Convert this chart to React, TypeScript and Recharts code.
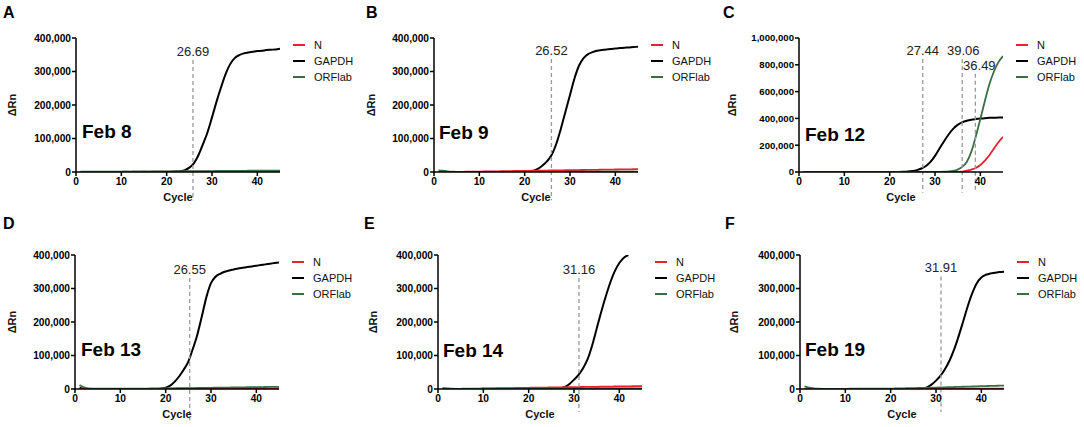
import React from "react";
import {
  Legend,
  Line,
  LineChart,
  ReferenceLine,
  XAxis,
  YAxis,
} from "recharts";

// cycle numbers shared by every panel
const cycles = [
  1, 2, 3, 4, 5, 6, 7, 8, 9, 10, 11, 12, 13, 14, 15, 16, 17, 18, 19, 20, 21, 22,
  23, 24, 25, 26, 27, 28, 29, 30, 31, 32, 33, 34, 35, 36, 37, 38, 39, 40, 41, 42,
  43, 44, 45,
];

const seriesNames = ["N", "GAPDH", "ORFlab"];
const xTicks = [0, 10, 20, 30, 40];

// delta Rn values, in thousands
const aN = [
  0, 0.4, 0.3, 0.3, 0.4, 0.4, 0.5, 0.4, 0.5, 0.5, 0.6, 0.5, 0.6, 0.6, 0.7, 0.6,
  0.7, 0.7, 0.8, 0.8, 0.8, 0.8, 0.9, 0.9, 0.9, 1, 1, 1, 1.1, 1.1, 1.1, 1.2, 1.2,
  1.2, 1.3, 1.3, 1.3, 1.4, 1.4, 1.4, 1.5, 1.5, 1.5, 1.6, 1.6,
];
const aGapdh = [
  0, 0, 0, 0, 0, 0, 0, 0, 0, 0, 0, 0, 0, 0, 0, 0, 0, 0, 0, 0, 0.5, 1.2, 2.5, 5.5,
  13, 26, 50, 83, 118, 163, 210, 253, 292, 322, 340, 349, 354, 357, 359, 361,
  362, 364, 365, 366, 368,
];
const aOrf = [
  1, 1.4, 1, 1, 1.2, 1.1, 1.3, 1.4, 1.3, 1.4, 1.5, 1.4, 1.6, 1.6, 1.8, 1.7, 1.9,
  1.9, 2, 2.1, 2.1, 2.2, 2.3, 2.4, 2.5, 2.5, 2.6, 2.7, 2.8, 2.9, 3, 3.1, 3.2, 3.3,
  3.4, 3.5, 3.6, 3.7, 3.8, 3.9, 4, 4.1, 4.2, 4.3, 4.4,
];

const bN = [
  0, 0, 0, 0, 0.3, 0.5, 0.7, 0.9, 1.1, 1.3, 1.5, 1.7, 1.9, 2.1, 2.3, 2.5, 2.8, 3,
  3.2, 3.4, 3.6, 3.8, 4, 4.2, 4.4, 4.6, 4.8, 5, 5.2, 5.4, 5.6, 5.8, 6, 6.2, 6.4,
  6.6, 6.8, 7, 7.2, 7.4, 7.6, 7.8, 8, 8.2, 8.4,
];
const bGapdh = [
  0, 0, 0, 0, 0, 0, 0, 0, 0, 0, 0, 0, 0, 0, 0, 0, 0, 0, 0, 0, 1, 4, 10, 20, 33,
  52, 85, 130, 180, 230, 280, 318, 340, 352, 358, 362, 364, 366, 367, 369, 370,
  371, 372, 373, 374,
];
const bOrf = [
  5, 4, 2, 1, 0.5, 0.3, 0.2, 0.2, 0.3, 0.2, 0.3, 0.3, 0.2, 0.3, 0.3, 0.4, 0.3,
  0.4, 0.4, 0.4, 0.5, 0.5, 0.5, 0.5, 0.6, 0.6, 0.6, 0.6, 0.7, 0.7, 0.7, 0.8, 0.8,
  0.8, 0.8, 0.9, 0.9, 0.9, 1, 1, 1, 1, 1.1, 1.1, 1.1,
];

const cN = [
  0, 0, 0, 0, 0, 0, 0, 0, 0, 0, 0, 0, 0, 0, 0, 0, 0, 0, 0, 0, 0, 0, 0, 0, 0, 0, 0,
  0, 0, 0, 0, 0, 0, 0, 1, 3, 10, 18, 30, 52, 85, 125, 175, 222, 262,
];
const cGapdh = [
  0, 0, 0, 0, 0, 0, 0, 0, 0, 0, 0, 0, 0, 0, 0, 0, 0, 0, 0, 0, 0, 0, 1, 3, 7, 14,
  26, 45, 75, 120, 175, 230, 280, 322, 352, 370, 382, 390, 395, 399, 402, 404,
  405, 406, 407,
];
const cOrf = [
  1, 1, 1, 1, 1, 1, 1, 1, 1, 1, 1, 1, 1, 1, 1, 1, 1, 1, 1, 1, 1, 1, 1, 1, 1, 1, 1,
  1, 1, 1, 1, 2, 4, 8, 18, 38, 75, 150, 265, 395, 530, 655, 750, 820, 865,
];

const dN = [
  0.5, 0.4, 0.4, 0.4, 0.5, 0.4, 0.5, 0.5, 0.5, 0.5, 0.5, 0.5, 0.6, 0.6, 0.6, 0.6,
  0.6, 0.6, 0.7, 0.7, 0.7, 0.7, 0.7, 0.8, 0.8, 0.8, 0.8, 0.8, 0.9, 0.9, 0.9, 0.9,
  1, 1, 1, 1, 1, 1.1, 1.1, 1.1, 1.1, 1.2, 1.2, 1.2, 1.2,
];
const dGapdh = [
  4, 1, 0, 0, 0, 0, 0, 0, 0, 0, 0, 0, 0, 0, 0, 0, 0, 0, 1, 4, 10, 22, 38, 58, 82,
  120, 163, 218, 275, 316, 335, 344, 350, 354, 357, 360, 362, 364, 366, 368, 370,
  372, 374, 376, 378,
];
const dOrf = [
  12, 5, 1.5, 1, 0.8, 0.8, 0.9, 0.9, 1, 1, 1.1, 1.1, 1.2, 1.2, 1.3, 1.4, 1.5, 1.6,
  1.7, 1.8, 2, 2.1, 2.3, 2.4, 2.6, 2.8, 3, 3.2, 3.4, 3.6, 3.8, 4, 4.2, 4.4, 4.6,
  4.8, 5, 5.2, 5.4, 5.6, 5.8, 6, 6.1, 6.2, 6.3,
];

const eN = [
  0, 0, 0.2, 0.4, 0.6, 0.8, 1, 1.2, 1.4, 1.6, 1.8, 2, 2.2, 2.4, 2.6, 2.8, 3, 3.2,
  3.4, 3.6, 3.8, 4, 4.2, 4.4, 4.6, 4.8, 5, 5.2, 5.4, 5.6, 5.8, 6, 6.2, 6.4, 6.6,
  6.8, 7, 7.2, 7.4, 7.6, 7.8, 8, 8.2, 8.4, 8.6,
];
const eGapdh = [
  0, 0, 0, 0, 0, 0, 0, 0, 0, 0, 0, 0, 0, 0, 0, 0, 0, 0, 0, 0, 0, 0, 0, 0, 0, 0, 2,
  6, 15, 28, 42, 62, 89, 130, 180, 230, 276, 318, 352, 376, 392, 400, null, null,
  null,
];
const eOrf = [
  3, 2, 1, 0.5, 0.5, 0.5, 0.6, 0.6, 0.6, 0.7, 0.7, 0.7, 0.8, 0.8, 0.8, 0.9, 0.9,
  0.9, 1, 1, 1, 1.1, 1.1, 1.1, 1.2, 1.2, 1.2, 1.3, 1.3, 1.3, 1.4, 1.4, 1.4, 1.5,
  1.5, 1.5, 1.6, 1.6, 1.6, 1.7, 1.7, 1.7, 1.8, 1.8, 1.8,
];

const fN = [
  0.5, 0.4, 0.4, 0.4, 0.4, 0.4, 0.4, 0.4, 0.4, 0.4, 0.5, 0.5, 0.5, 0.5, 0.5, 0.5,
  0.5, 0.5, 0.5, 0.5, 0.6, 0.6, 0.6, 0.6, 0.6, 0.6, 0.6, 0.6, 0.6, 0.6, 0.7, 0.7,
  0.7, 0.7, 0.7, 0.7, 0.7, 0.7, 0.7, 0.7, 0.8, 0.8, 0.8, 0.8, 0.8,
];
const fGapdh = [
  0, 0, 0, 0, 0, 0, 0, 0, 0, 0, 0, 0, 0, 0, 0, 0, 0, 0, 0, 0, 0, 0, 0, 0, 0, 0, 1,
  5, 13, 25, 40, 60, 85, 118, 158, 202, 247, 286, 316, 333, 341, 345, 347, 349,
  350,
];
const fOrf = [
  8, 4, 2, 1, 0.5, 0.5, 0.5, 0.5, 0.6, 0.6, 0.7, 0.7, 0.8, 0.8, 0.9, 0.9, 1, 1,
  1.1, 1.2, 1.5, 1.8, 2.1, 2.4, 2.7, 3, 3.3, 3.6, 3.9, 4.3, 4.7, 5.1, 5.5, 5.9,
  6.3, 6.7, 7.1, 7.5, 7.9, 8.3, 8.7, 9.1, 9.5, 9.9, 10.3,
];

// Ct markers: where each dashed line sits on the cycle axis (as drawn) and its label
const aCt = [{ at: 25.8, text: "26.69" }];
const bCt = [{ at: 25.9, text: "26.52" }];
const cCt = [
  { at: 27.3, text: "27.44" },
  { at: 36.0, text: "39.06" },
  { at: 38.9, text: "36.49" },
];
const dCt = [{ at: 25.3, text: "26.55" }];
const eCt = [{ at: 31.1, text: "31.16" }];
const fCt = [{ at: 31.1, text: "31.91" }];

const ticks400 = [0, 100, 200, 300, 400];
const ticks1000 = [0, 200, 400, 600, 800, 1000];

const COLORS: Record<string, string> = {
  N: "#e8212b",
  GAPDH: "#000000",
  ORFlab: "#3a6e45",
};
const FONT = "Arial, 'Liberation Sans', Helvetica, sans-serif";

const W = 360;
const H = 215;

const panels = [
  { id: "A", date: "Feb 8", left: 0, top: 0, n: aN, g: aGapdh, o: aOrf, yMax: 400, yTicks: ticks400, cts: aCt, lineTop: [334], labelDx: [0], drop: 84, dateX: 82, dateY: 121.5, letterX: 3, letterY: 4.5, yLabX: 12, tickFs: 10.2 },
  { id: "B", date: "Feb 9", left: 358, top: 0, n: bN, g: bGapdh, o: bOrf, yMax: 400, yTicks: ticks400, cts: bCt, lineTop: [337], labelDx: [0], drop: 84, dateX: 81, dateY: 122.5, letterX: 8, letterY: 4.5, yLabX: 13, tickFs: 10.2 },
  { id: "C", date: "Feb 12", left: 723, top: 0, n: cN, g: cGapdh, o: cOrf, yMax: 1000, yTicks: ticks1000, cts: cCt, lineTop: [844, 844, 733], labelDx: [0, 1, 4], drop: 155, dateX: 82, dateY: 124.5, letterX: 0, letterY: 4.5, yLabX: 9, tickFs: 9.6 },
  { id: "D", date: "Feb 13", left: -1, top: 217, n: dN, g: dGapdh, o: dOrf, yMax: 400, yTicks: ticks400, cts: dCt, lineTop: [331], labelDx: [0], drop: 93, dateX: 82, dateY: 122.5, letterX: 4, letterY: -1.5, yLabX: 13, tickFs: 10.2 },
  { id: "E", date: "Feb 14", left: 362, top: 217, n: eN, g: eGapdh, o: eOrf, yMax: 400, yTicks: ticks400, cts: eCt, lineTop: [331], labelDx: [0], drop: 69, dateX: 81, dateY: 123.5, letterX: 2, letterY: -1.5, yLabX: 11, tickFs: 10.2 },
  { id: "F", date: "Feb 19", left: 724, top: 217, n: fN, g: fGapdh, o: fOrf, yMax: 400, yTicks: ticks400, cts: fCt, lineTop: [336], labelDx: [0], drop: 69, dateX: 81, dateY: 122.5, letterX: 1, letterY: -1.5, yLabX: 10, tickFs: 10.2 },
];

const fmt = (v: number) => (v * 1000).toLocaleString("en-US");

function LegendBox({ payload }: any) {
  const items = [...(payload || [])].sort(
    (a: any, b: any) => seriesNames.indexOf(a.value) - seriesNames.indexOf(b.value)
  );
  return (
    <div style={{ fontFamily: FONT, fontSize: 11, color: "#111" }}>
      {items.map((p: any) => (
        <div key={p.value} style={{ display: "flex", alignItems: "center", height: 16 }}>
          <svg width={12} height={2} style={{ marginRight: 9 }}>
            <line x1={0} y1={1} x2={12} y2={1} stroke={COLORS[p.value]} strokeWidth={2} />
          </svg>
          <span>{p.value}</span>
        </div>
      ))}
    </div>
  );
}

function Panel({ p }: { p: (typeof panels)[number] }) {
  const rows = cycles.map((c, i) => ({ cycle: c, N: p.n[i], GAPDH: p.g[i], ORFlab: p.o[i] }));
  return (
    <div style={{ position: "absolute", left: p.left, top: p.top, width: W, height: H }}>
      <LineChart width={W} height={H} data={rows} margin={{ top: 38, right: 80, bottom: 13, left: 0 }}>
        <XAxis
          dataKey="cycle"
          type="number"
          domain={[0, 45]}
          ticks={xTicks}
          allowDataOverflow
          height={30}
          tickSize={4}
          tickMargin={2}
          axisLine={{ stroke: "#000", strokeWidth: 1.5 }}
          tickLine={{ stroke: "#000", strokeWidth: 1.5 }}
          tick={{ fill: "#000", fontSize: 10.2, fontWeight: "bold", fontFamily: FONT }}
          label={{
            content: ({ viewBox }: any) => (
              <text
                x={viewBox.x + viewBox.width / 2}
                y={viewBox.y + 25}
                textAnchor="middle"
                dominantBaseline="central"
                fontFamily={FONT}
                fontWeight="bold"
                fontSize={11}
                fill="#111"
              >
                Cycle
              </text>
            ),
          }}
        />
        <YAxis
          type="number"
          domain={[0, p.yMax]}
          ticks={p.yTicks}
          allowDataOverflow
          width={76}
          tickSize={4}
          tickMargin={1}
          tickFormatter={fmt}
          axisLine={{ stroke: "#000", strokeWidth: 1.5 }}
          tickLine={{ stroke: "#000", strokeWidth: 1.5 }}
          tick={{ fill: "#000", fontSize: p.tickFs, fontWeight: "bold", fontFamily: FONT }}
          label={{
            content: ({ viewBox }: any) => {
              const x = viewBox.x + p.yLabX;
              const y = viewBox.y + viewBox.height / 2;
              return (
                <text
                  x={x}
                  y={y}
                  transform={`rotate(-90, ${x}, ${y})`}
                  textAnchor="middle"
                  dominantBaseline="central"
                  fontFamily={FONT}
                  fontWeight="bold"
                  fontSize={11}
                  fill="#111"
                >
                  ΔRn
                </text>
              );
            },
          }}
        />
        <Legend
          layout="vertical"
          align="center"
          verticalAlign="middle"
          content={<LegendBox />}
          wrapperStyle={{ left: 293, top: 37, width: 70 }}
        />
        <Line dataKey="GAPDH" name="GAPDH" stroke={COLORS.GAPDH} strokeWidth={2} dot={false} type="monotone" isAnimationActive={false} />
        <Line dataKey="N" name="N" stroke={COLORS.N} strokeWidth={1.8} dot={false} type="monotone" isAnimationActive={false} />
        <Line dataKey="ORFlab" name="ORFlab" stroke={COLORS.ORFlab} strokeWidth={1.8} dot={false} type="monotone" isAnimationActive={false} />
        {p.cts.map((t, i) => (
          <ReferenceLine
            key={t.text}
            segment={[
              { x: t.at, y: p.lineTop[i] },
              { x: t.at, y: -p.drop },
            ]}
            ifOverflow="visible"
            stroke="#9a9a9a"
            strokeWidth={1.3}
            strokeDasharray="4 3"
            label={{
              value: t.text,
              position: "top",
              offset: 4,
              dx: p.labelDx[i],
              fill: "#222",
              fontSize: 13,
              fontFamily: FONT,
            }}
          />
        ))}
      </LineChart>
      <div
        style={{
          position: "absolute",
          left: p.letterX,
          top: p.letterY,
          fontFamily: FONT,
          fontWeight: "bold",
          fontSize: 16,
          lineHeight: "16px",
        }}
      >
        {p.id}
      </div>
      <div
        style={{
          position: "absolute",
          left: p.dateX,
          top: p.dateY,
          fontFamily: FONT,
          fontWeight: "bold",
          fontSize: 19,
          lineHeight: "19px",
          whiteSpace: "nowrap",
        }}
      >
        {p.date}
      </div>
    </div>
  );
}

export default function App() {
  return (
    <div style={{ position: "absolute", left: 0, top: 0, width: 1084, height: 427, background: "#fff", overflow: "hidden" }}>
      {panels.map((p) => (
        <Panel key={p.id} p={p} />
      ))}
    </div>
  );
}
